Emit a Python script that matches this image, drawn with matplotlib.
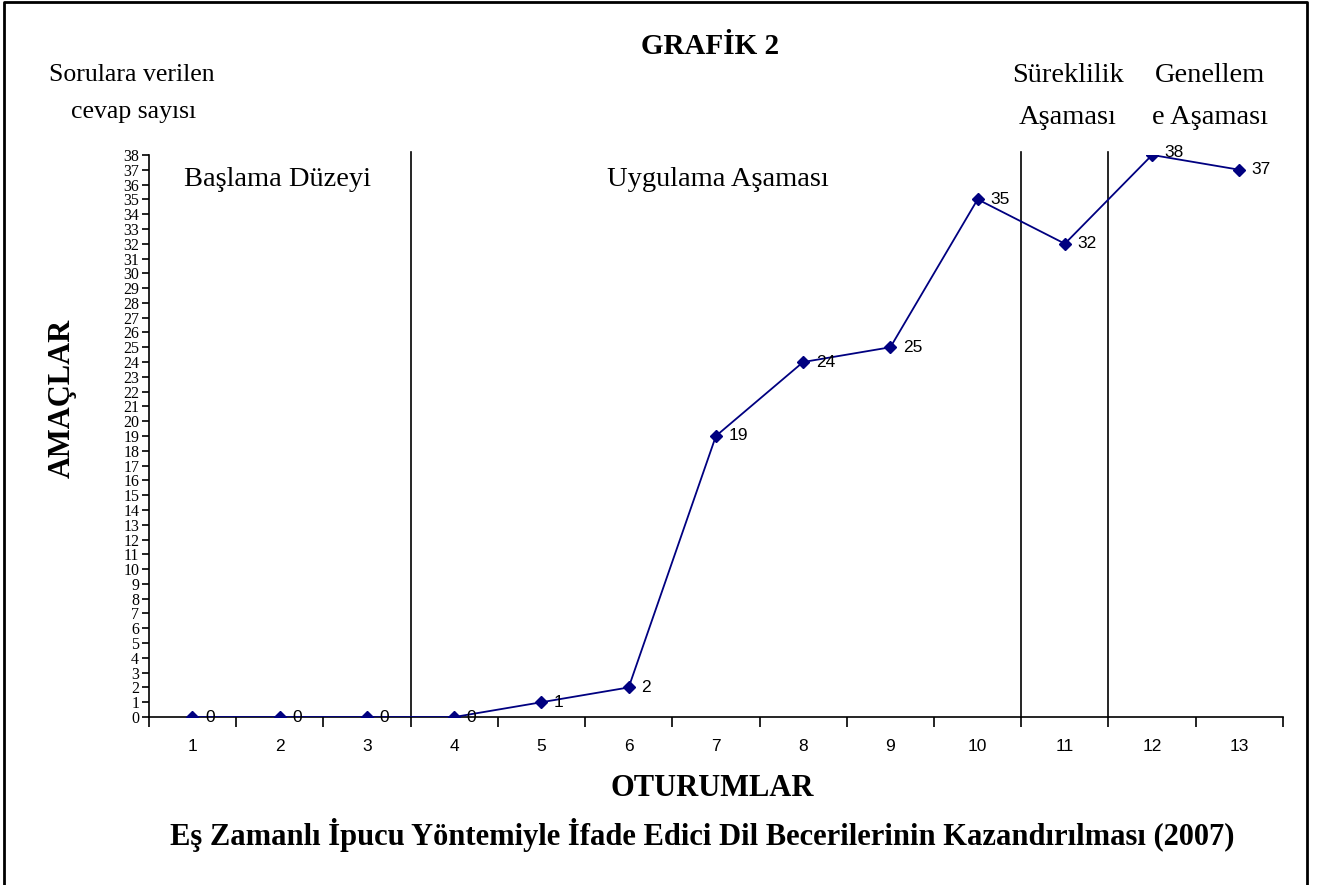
import matplotlib
matplotlib.use("Agg")
import matplotlib.pyplot as plt
from matplotlib.lines import Line2D

sessions = list(range(1, 14))
values = [0, 0, 0, 0, 1, 2, 19, 24, 25, 35, 32, 38, 37]
phase_bounds = [3.5, 10.5, 11.5]
yticks = list(range(0, 39))

SERIF = ["Liberation Serif", "DejaVu Serif"]
SANS = ["Liberation Sans", "DejaVu Sans"]

fig = plt.figure(figsize=(13.21, 8.85), dpi=100)
ax = fig.add_axes([0.1127, 0.1898, 0.8585, 0.6351])

ax.plot(sessions, values, color="#000080", lw=1.3, marker="D", ms=6,
        markerfacecolor="#000080", markeredgecolor="#000080", zorder=3)

for x, v in zip(sessions, values):
    dy = 2 if v == 38 else 0
    ax.annotate(str(v), (x, v), xytext=(9, dy), textcoords="offset points",
                ha="left", va="center", fontsize=12.5, family=SANS, zorder=4)

for b in phase_bounds:
    ax.plot([b, b], [0, 38.2], color="black", lw=1.2, clip_on=False, zorder=2)

ax.set_xlim(0.5, 13.5)
ax.set_ylim(0, 38)
ax.set_xticks(sessions)
ax.set_xticklabels([str(s) for s in sessions], family=SANS, fontsize=12.5)
ax.set_xticks([s + 0.5 for s in range(0, 14)], minor=True)
ax.tick_params(axis="x", which="major", length=0, pad=16)
ax.tick_params(axis="x", which="minor", length=7, width=1.2, direction="out")
ax.set_yticks(yticks)
ax.set_yticklabels([str(t) for t in yticks], family=SERIF, fontsize=11.5)
ax.tick_params(axis="y", length=5, width=1.2, direction="out", pad=2)

for s in ["top", "right"]:
    ax.spines[s].set_visible(False)
for s in ["left", "bottom"]:
    ax.spines[s].set_linewidth(1.2)

def ft(x, y, s, size, bold=False, **kw):
    fig.text(x / 1321, 1 - y / 885, s, fontsize=size, family=SERIF,
             fontweight="bold" if bold else "normal", ha="center", va="center", **kw)

ft(710, 46, "GRAFİK 2", 21, bold=True)
ft(132, 75, "Sorulara verilen", 18.5)
ft(134, 112, "cevap sayısı", 18.5)
ft(1068, 75, "Süreklilik", 20.5)
ft(1068, 117, "Aşaması", 20.5)
ft(1210, 75, "Genellem", 20.5)
ft(1210, 117, "e Aşaması", 20.5)
ft(277, 180, "Başlama Düzeyi", 20.5)
ft(718, 180, "Uygulama Aşaması", 20.5)
ft(62, 398, "AMAÇLAR", 22, bold=True, rotation=90)
ft(712, 788, "OTURUMLAR", 22, bold=True)
ft(702, 835, "Eş Zamanlı İpucu Yöntemiyle İfade Edici Dil Becerilerinin Kazandırılması (2007)", 22, bold=True)

# outer frame (left, top, right edges)
fx = [4 / 1321, 4 / 1321, 1307 / 1321, 1307 / 1321]
fy = [0, 1 - 2 / 885, 1 - 2 / 885, 0]
fig.add_artist(Line2D(fx, fy, color="black", lw=2, transform=fig.transFigure))

fig.savefig("out.png", dpi=100)
